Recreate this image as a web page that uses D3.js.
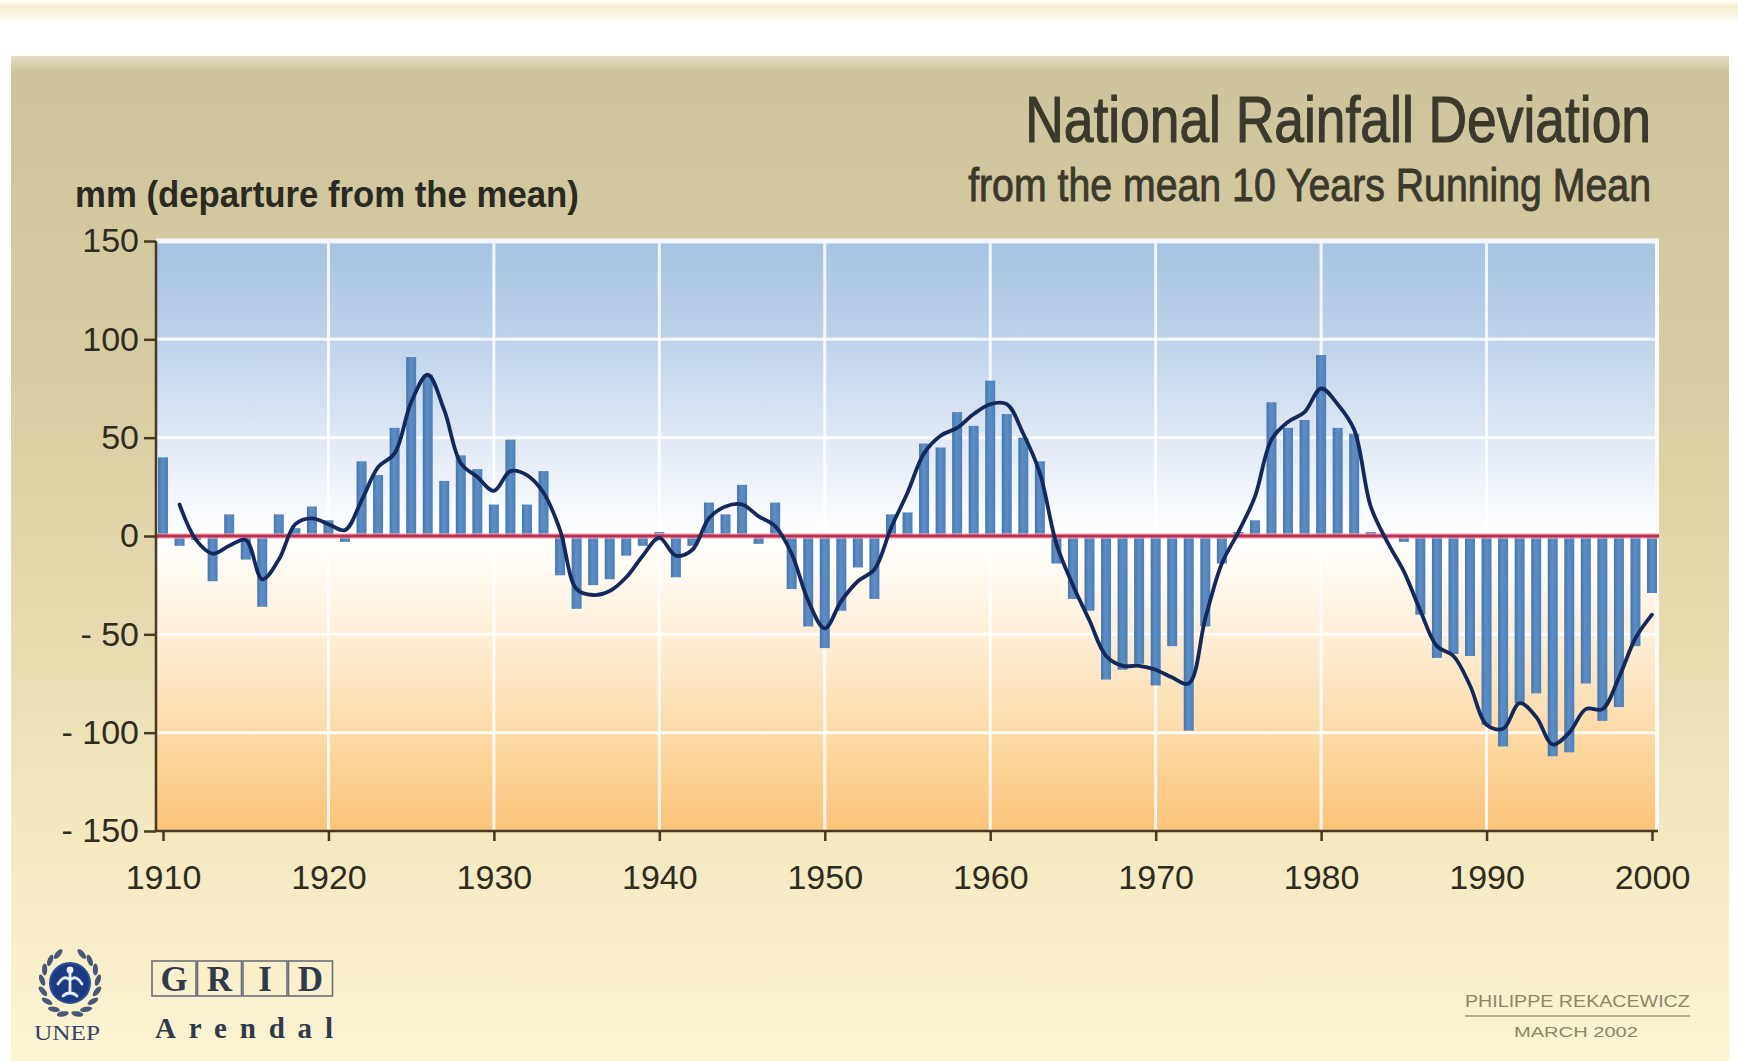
<!DOCTYPE html>
<html>
<head>
<meta charset="utf-8">
<script src="https://cdn.jsdelivr.net/npm/d3@7"></script>
<style>
  html, body { margin: 0; padding: 0; background: #ffffff; }
  svg { display: block; }
</style>
</head>
<body>
<svg id="chart" width="1738" height="1061"></svg>
<script>
// Annual rainfall departure from the long-term mean (mm), 1910-2000
const years = [
  1910,1911,1912,1913,1914,1915,1916,1917,1918,1919,
  1920,1921,1922,1923,1924,1925,1926,1927,1928,1929,
  1930,1931,1932,1933,1934,1935,1936,1937,1938,1939,
  1940,1941,1942,1943,1944,1945,1946,1947,1948,1949,
  1950,1951,1952,1953,1954,1955,1956,1957,1958,1959,
  1960,1961,1962,1963,1964,1965,1966,1967,1968,1969,
  1970,1971,1972,1973,1974,1975,1976,1977,1978,1979,
  1980,1981,1982,1983,1984,1985,1986,1987,1988,1989,
  1990,1991,1992,1993,1994,1995,1996,1997,1998,1999,
  2000
];
const rainfall = [
   40,  -5,  -2, -23,  11, -12, -36,  11,   4,  15,
    8,  -3,  38,  31,  55,  91,  82,  28,  41,  34,
   16,  49,  16,  33, -20, -37, -25, -22, -10,  -5,
    2, -21,  -5,  17,  11,  26,  -4,  17, -27, -46,
  -57, -38, -16, -32,  11,  12,  47,  45,  63,  56,
   79,  62,  50,  38, -14, -32, -38, -73, -68, -65,
  -76, -56, -99, -46, -14,   2,   8,  68,  55,  59,
   92,  55,  52,   2,   0,  -3, -40, -62, -60, -61,
  -96,-107, -85, -80,-112,-110, -75, -94, -87, -56,
  -29
];

// 10-year running mean (mm)
const meanYears = [
  1911,1912,1913,1914,1915,1916,1917,1918,1919,
  1920,1921,1922,1923,1924,1925,1926,1927,1928,1929,
  1930,1931,1932,1933,1934,1935,1936,1937,1938,1939,
  1940,1941,1942,1943,1944,1945,1946,1947,1948,1949,
  1950,1951,1952,1953,1954,1955,1956,1957,1958,1959,
  1960,1961,1962,1963,1964,1965,1966,1967,1968,1969,
  1970,1971,1972,1973,1974,1975,1976,1977,1978,1979,
  1980,1981,1982,1983,1984,1985,1986,1987,1988,1989,
  1990,1991,1992,1993,1994,1995,1996,1997,1998,1999,
  2000
];
const runningMean = [
   16,  -2,  -9,  -5,  -2, -22, -12,   6,   9,
    6,   3,  18,  35,  42,  68,  82,  64,  37,  30,
   23,  33,  31,  22,   3, -27, -30, -28, -21, -10,
   -1, -10,  -7,   9,  15,  16,  10,   5,  -9, -33,
  -47, -33, -23, -17,   4,  22,  42,  51,  55,  62,
   67,  67,  52,  32,  -4, -25, -43, -61, -66, -66,
  -68, -72, -75, -42, -14,   2,  20,  49,  58,  63,
   75,  67,  54,  15,  -3, -18, -38, -56, -61, -76,
  -96, -98, -85, -92,-106,-100, -88, -88, -72, -52,
  -40
];

const xTickYears  = [1910,1920,1930,1940,1950,1960,1970,1980,1990,2000];
const gridYears   = [1920,1930,1940,1950,1960,1970,1980,1990];
const yTickValues = [150,100,50,0,-50,-100,-150];
const yTickLabels = ["150","100","50","0","- 50","- 100","- 150"];
const gridValues  = [100,50,-50,-100];

const titleText    = "National Rainfall Deviation";
const subtitleText = "from the mean 10 Years Running Mean";
const unitText     = "mm (departure from the mean)";
const authorText   = "PHILIPPE REKACEWICZ";
const dateText     = "MARCH 2002";
const gridLetters  = ["G","R","I","D"];

const svg = d3.select("#chart");
const W = 1738, H = 1061;
const plot = { left: 156, right: 1657, top: 241, bottom: 831 };

const x = d3.scaleLinear().domain([1910, 2000]).range([163, 1652]);
const y = d3.scaleLinear().domain([-150, 150]).range([plot.bottom, plot.top]);

const SANS = "'Liberation Sans', Arial, Helvetica, sans-serif";
const SERIF = "'Liberation Serif', 'DejaVu Serif', Georgia, serif";

// Squeeze a text horizontally so that it spans exactly `width` px
function fitText(sel, px, py, width, anchor) {
  sel.attr("x", 0).attr("y", 0).attr("text-anchor", anchor || "start");
  const len = sel.node().getComputedTextLength();
  sel.attr("transform", `translate(${px},${py}) scale(${width / len},1)`);
  return sel;
}

// ---------- gradients ----------
const defs = svg.append("defs");

function vGrad(id, stops, y1, y2) {
  const g = defs.append("linearGradient").attr("id", id)
    .attr("gradientUnits", "userSpaceOnUse")
    .attr("x1", 0).attr("x2", 0).attr("y1", y1).attr("y2", y2);
  stops.forEach(([o, c]) => g.append("stop").attr("offset", o).attr("stop-color", c));
}

vGrad("panelGrad", [
  [0, "#e4ddc3"], [0.015, "#cec49c"], [0.3, "#d7cca1"],
  [0.55, "#e5d9ad"], [0.8, "#f5eac2"], [1, "#fdf4d3"]
], 56, H);

vGrad("topBand", [
  [0, "#ffffff"], [0.12, "#f6eed3"], [0.3, "#fbf7ea"], [0.42, "#ffffff"], [1, "#ffffff"]
], 0, 56);

vGrad("skyGrad", [
  [0, "#a6c2e1"], [0.3, "#bbd0ea"], [0.62, "#dbe5f3"], [0.85, "#f1f5fb"], [1, "#ffffff"]
], y(150), y(0));

vGrad("sandGrad", [
  [0, "#ffffff"], [0.12, "#fffaf1"], [0.4, "#fdebcf"], [0.7, "#fcd8a2"], [1, "#fbc379"]
], y(0), y(-150));

const barGrad = defs.append("linearGradient").attr("id", "barGrad")
  .attr("x1", 0).attr("x2", 1).attr("y1", 0).attr("y2", 0);
[[0, "#4576ae"], [0.45, "#5d8ec5"], [1, "#4d7fb9"]]
  .forEach(([o, c]) => barGrad.append("stop").attr("offset", o).attr("stop-color", c));

// ---------- page background ----------
svg.append("rect").attr("width", W).attr("height", 56).attr("fill", "url(#topBand)");
svg.append("rect").attr("x", 11).attr("y", 56).attr("width", 1718).attr("height", H - 56)
  .attr("fill", "url(#panelGrad)");

// ---------- titles ----------
fitText(svg.append("text").text(titleText)
  .attr("font-family", SANS).attr("font-size", 64).attr("fill", "#3a392c")
  .attr("stroke", "#3a392c").attr("stroke-width", 1.1),
  1651, 142, 626, "end");

fitText(svg.append("text").text(subtitleText)
  .attr("font-family", SANS).attr("font-size", 46).attr("fill", "#3a392c")
  .attr("stroke", "#3a392c").attr("stroke-width", 0.9),
  1651, 201, 683, "end");

fitText(svg.append("text").text(unitText)
  .attr("font-family", SANS).attr("font-size", 36).attr("font-weight", "bold").attr("fill", "#2b2a22"),
  75, 207, 504, "start");

// ---------- plot background ----------
const g = svg.append("g");
g.append("rect").attr("x", plot.left).attr("y", y(150))
  .attr("width", plot.right - plot.left).attr("height", y(0) - y(150))
  .attr("fill", "url(#skyGrad)");
g.append("rect").attr("x", plot.left).attr("y", y(0))
  .attr("width", plot.right - plot.left).attr("height", y(-150) - y(0))
  .attr("fill", "url(#sandGrad)");

// white grid
g.selectAll("line.vgrid").data(gridYears).join("line")
  .attr("class", "vgrid")
  .attr("x1", d => x(d)).attr("x2", d => x(d))
  .attr("y1", y(150)).attr("y2", y(-150))
  .attr("stroke", "#ffffff").attr("stroke-opacity", 0.85).attr("stroke-width", 3);
g.selectAll("line.hgrid").data(gridValues).join("line")
  .attr("class", "hgrid")
  .attr("x1", plot.left).attr("x2", plot.right)
  .attr("y1", d => y(d)).attr("y2", d => y(d))
  .attr("stroke", "#ffffff").attr("stroke-opacity", 0.85).attr("stroke-width", 3);
// white frame on top and right
g.append("line").attr("x1", plot.left).attr("x2", plot.right + 2)
  .attr("y1", y(150)).attr("y2", y(150))
  .attr("stroke", "#f4f6fa").attr("stroke-width", 5);
g.append("line").attr("x1", plot.right).attr("x2", plot.right)
  .attr("y1", y(150)).attr("y2", y(-150))
  .attr("stroke", "#fbfaf4").attr("stroke-width", 4);

// ---------- bars ----------
const barW = 10;
g.selectAll("rect.bar").data(years).join("rect")
  .attr("class", "bar")
  .attr("x", d => x(d) - barW / 2)
  .attr("width", barW)
  .attr("y", (d, i) => y(Math.max(0, rainfall[i])))
  .attr("height", (d, i) => Math.abs(y(rainfall[i]) - y(0)))
  .attr("fill", "url(#barGrad)");

// ---------- zero line ----------
g.append("line").attr("x1", plot.left).attr("x2", plot.right + 2)
  .attr("y1", y(0)).attr("y2", y(0))
  .attr("stroke", "#f2a8b6").attr("stroke-opacity", 0.6).attr("stroke-width", 6);
g.append("line").attr("x1", plot.left).attr("x2", plot.right + 2)
  .attr("y1", y(0)).attr("y2", y(0))
  .attr("stroke", "#bf2c4c").attr("stroke-width", 2.8);

// ---------- running mean ----------
const meanLine = d3.line()
  .x((d, i) => x(meanYears[i]))
  .y((d, i) => y(runningMean[i]))
  .curve(d3.curveCatmullRom.alpha(0.5));
g.append("path").datum(runningMean)
  .attr("d", meanLine)
  .attr("fill", "none")
  .attr("stroke", "#14295b")
  .attr("stroke-width", 3.8)
  .attr("stroke-linejoin", "round")
  .attr("stroke-linecap", "round");

// ---------- axes ----------
const axisColor = "#463a22";

const yAxis = d3.axisLeft(y)
  .tickValues(yTickValues)
  .tickFormat((d, i) => yTickLabels[i])
  .tickSize(12).tickSizeOuter(0).tickPadding(5);
const yG = svg.append("g").attr("transform", `translate(${plot.left},0)`).call(yAxis);
yG.select(".domain").remove();
yG.selectAll(".tick line").attr("stroke", axisColor).attr("stroke-width", 2.5);
yG.selectAll(".tick text")
  .attr("font-family", SANS).attr("font-size", 34).attr("fill", "#2e2b20");

const xAxis = d3.axisBottom(x)
  .tickValues(xTickYears)
  .tickFormat(d3.format("d"))
  .tickSize(10).tickSizeOuter(0).tickPadding(24);
const xG = svg.append("g").attr("transform", `translate(0,${plot.bottom})`).call(xAxis);
xG.select(".domain").remove();
xG.selectAll(".tick line").attr("stroke", axisColor).attr("stroke-width", 2.5);
xG.selectAll(".tick text")
  .attr("font-family", SANS).attr("font-size", 34).attr("fill", "#2e2b20");

// axis lines
svg.append("line").attr("x1", plot.left).attr("x2", plot.left)
  .attr("y1", y(150)).attr("y2", y(-150) + 1)
  .attr("stroke", axisColor).attr("stroke-width", 2.5);
svg.append("line").attr("x1", plot.left - 1).attr("x2", plot.right + 1)
  .attr("y1", plot.bottom).attr("y2", plot.bottom)
  .attr("stroke", axisColor).attr("stroke-width", 2.5);

// ---------- UNEP emblem ----------
const logo = svg.append("g").attr("transform", "translate(70,983)");
const leafColor = "#4a5878";
const leafAngles = [75, 55, 35, 15, -5, -25, -45, -65];
[1, -1].forEach(side => {
  leafAngles.forEach(a => {
    const phi = (side === 1 ? a : 180 - a) * Math.PI / 180;
    const cx = 28 * Math.cos(phi), cy = 32 * Math.sin(phi);
    const rot = (side === 1 ? a : 180 - a) + 90 + side * 25;
    logo.append("ellipse")
      .attr("cx", cx).attr("cy", cy).attr("rx", 6).attr("ry", 2.6)
      .attr("transform", `rotate(${rot},${cx},${cy})`)
      .attr("fill", leafColor);
  });
});
logo.append("circle").attr("r", 20).attr("fill", "#1c3a80");
logo.append("circle").attr("r", 20).attr("fill", "none").attr("stroke", "#2d4f97").attr("stroke-width", 2);
logo.append("path")
  .attr("d", "M0,-13 L0,10 M0,-3 C-5,-8 -9,-4 -12,1 M0,-3 C5,-8 9,-4 12,1 M-7,13 C-3,9 3,9 7,13")
  .attr("fill", "none").attr("stroke", "#e8eef8").attr("stroke-width", 2.8).attr("stroke-linecap", "round");
logo.append("circle").attr("cy", -13).attr("r", 3.4).attr("fill", "#e8eef8");

fitText(svg.append("text").text("UNEP")
  .attr("font-family", SERIF).attr("font-size", 22).attr("fill", "#34456a"),
  34, 1040, 66, "start");

// ---------- GRID-Arendal mark ----------
const boxW = 44, boxH = 35, boxX0 = 152, boxY0 = 961;
const grid = svg.append("g");
grid.selectAll("rect").data(gridLetters).join("rect")
  .attr("x", (d, i) => boxX0 + i * (boxW + 1.5))
  .attr("y", boxY0).attr("width", boxW).attr("height", boxH)
  .attr("fill", "none").attr("stroke", "#6a6f7c").attr("stroke-width", 1.6);
grid.selectAll("text").data(gridLetters).join("text")
  .text(d => d)
  .attr("x", (d, i) => boxX0 + i * (boxW + 1.5) + boxW / 2)
  .attr("y", boxY0 + boxH - 5)
  .attr("text-anchor", "middle")
  .attr("font-family", SERIF).attr("font-weight", "bold").attr("font-size", 35)
  .attr("fill", "#2f3b4c");
svg.append("text").text("Arendal")
  .attr("x", 155).attr("y", 1038)
  .attr("font-family", SERIF).attr("font-weight", "bold").attr("font-size", 29)
  .attr("fill", "#2f3b4c")
  .attr("textLength", 178).attr("lengthAdjust", "spacing");

// ---------- credit ----------
fitText(svg.append("text").text(authorText)
  .attr("font-family", SANS).attr("font-size", 17).attr("fill", "#8b866a"),
  1465, 1007, 225, "start");
svg.append("line").attr("x1", 1465).attr("x2", 1690).attr("y1", 1016).attr("y2", 1016)
  .attr("stroke", "#9b9679").attr("stroke-width", 1.6);
fitText(svg.append("text").text(dateText)
  .attr("font-family", SANS).attr("font-size", 15).attr("fill", "#8b866a"),
  1514, 1037, 124, "start");
</script>
</body>
</html>
